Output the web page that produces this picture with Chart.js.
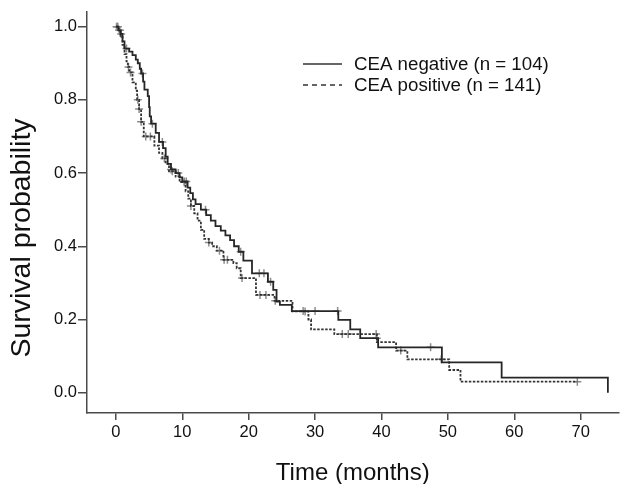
<!DOCTYPE html>
<html>
<head>
<meta charset="utf-8">
<script src="https://cdn.jsdelivr.net/npm/chart.js@4.4.1/dist/chart.umd.min.js"></script>
<style>
html, body { margin: 0; padding: 0; background: #fff; }
</style>
</head>
<body>
<canvas id="km" width="624" height="484"></canvas>
<script>
// Kaplan-Meier steps: time (months) and survival after each drop
const negTimes = [0, 0.4, 0.7, 1.0, 1.3, 2.0, 2.5, 3.0, 3.3, 3.6, 3.8, 4.1, 4.3, 4.8, 5.0, 5.1, 5.3, 6.0, 6.5, 7.1, 7.5, 7.8, 8.3, 9.0, 9.6, 10.0, 10.8, 11.2, 11.6, 12.0, 12.8, 13.6, 14.3, 15.0, 15.8, 16.5, 17.2, 17.8, 18.5, 19.2, 20.5, 22.9, 23.7, 24.2, 24.7, 26.5, 33.5, 35.3, 36.8, 39.5, 49.1, 58.1, 74.1];
const negSurv = [1, 0.99, 0.98, 0.96, 0.94, 0.932, 0.922, 0.91, 0.9, 0.885, 0.872, 0.85, 0.828, 0.81, 0.78, 0.755, 0.735, 0.71, 0.685, 0.668, 0.645, 0.625, 0.61, 0.6, 0.588, 0.577, 0.56, 0.545, 0.528, 0.515, 0.5, 0.485, 0.47, 0.455, 0.443, 0.43, 0.417, 0.4, 0.385, 0.361, 0.326, 0.303, 0.281, 0.249, 0.24, 0.223, 0.199, 0.173, 0.149, 0.124, 0.083, 0.041, 0];

const posTimes = [0, 0.4, 0.7, 1.0, 1.3, 1.6, 1.8, 2.0, 2.5, 3.0, 3.2, 3.5, 3.8, 4.2, 5.8, 6.5, 7.0, 7.5, 8.0, 9.0, 9.6, 10.5, 10.9, 11.3, 11.8, 12.3, 12.8, 13.3, 14.0, 14.5, 15.2, 16.2, 17.7, 18.2, 18.8, 21.1, 23.9, 26.6, 29.0, 29.4, 32.9, 39.3, 42.2, 43.9, 50.2, 51.9, 69.5];
const posSurv = [1, 0.99, 0.975, 0.95, 0.925, 0.905, 0.89, 0.875, 0.848, 0.825, 0.8, 0.775, 0.74, 0.7, 0.675, 0.655, 0.64, 0.625, 0.605, 0.59, 0.575, 0.55, 0.53, 0.51, 0.49, 0.47, 0.445, 0.42, 0.41, 0.4, 0.388, 0.363, 0.354, 0.34, 0.313, 0.267, 0.251, 0.222, 0.2, 0.173, 0.16, 0.138, 0.115, 0.091, 0.062, 0.03, 0.03];

// censored cases (+ marks)
const negCensorTimes = [0.2, 0.5, 0.8, 1.6, 4.0, 5.5, 7.0, 8.3, 9.4, 10.3, 10.6, 13.5, 18.8, 21.6, 22.3, 23.3, 28.2, 30.0, 33.4, 39.3, 47.4];
const negCensorSurv = [1, 0.99, 0.98, 0.94, 0.872, 0.735, 0.685, 0.61, 0.6, 0.577, 0.577, 0.5, 0.385, 0.326, 0.326, 0.303, 0.223, 0.223, 0.223, 0.149, 0.124];
const posCensorTimes = [0.1, 0.3, 0.6, 1.9, 2.2, 3.3, 3.5, 3.8, 4.5, 5.2, 7.3, 8.5, 10.3, 11.3, 14.0, 15.6, 16.3, 16.8, 19.0, 21.7, 22.6, 24.0, 28.5, 34.1, 35.0, 39.2, 42.9, 49.0, 69.5];
const posCensorSurv = [1, 1, 0.99, 0.89, 0.875, 0.8, 0.775, 0.74, 0.7, 0.7, 0.64, 0.605, 0.575, 0.51, 0.41, 0.388, 0.363, 0.363, 0.313, 0.267, 0.267, 0.251, 0.222, 0.16, 0.16, 0.16, 0.115, 0.091, 0.03];

const seriesLabels = ['CEA negative (n = 104)', 'CEA positive (n = 141)'];
const xTicks = [0, 10, 20, 30, 40, 50, 60, 70];
const yTicks = [0, 0.2, 0.4, 0.6, 0.8, 1.0];

const FONT = '"Liberation Sans", Arial, sans-serif';

function toPoints(xs, ys) {
    return xs.map((x, i) => ({ x: x, y: ys[i] }));
}

// legend and y title drawn by hand
const extras = {
    id: 'extras',
    afterDatasetsDraw(chart) {
        const ctx = chart.ctx;
        ctx.save();
        ctx.font = '18.7px ' + FONT;
        ctx.fillStyle = '#111';
        ctx.textBaseline = 'middle';
        seriesLabels.forEach((label, i) => {
            const y = 64 + i * 21;
            ctx.beginPath();
            ctx.setLineDash(i === 0 ? [] : [5, 4]);
            ctx.strokeStyle = '#333';
            ctx.lineWidth = 1.5;
            ctx.moveTo(303, y);
            ctx.lineTo(342, y);
            ctx.stroke();
            ctx.setLineDash([]);
            ctx.fillText(label, 354, y + 1);
        });

        ctx.translate(22, 238);
        ctx.rotate(-Math.PI / 2);
        ctx.font = '28.5px ' + FONT;
        ctx.textAlign = 'center';
        ctx.fillText('Survival probability', 0, 0);
        ctx.restore();
    }
};

const ctx = document.getElementById('km').getContext('2d');

const chart = new Chart(ctx, {
    type: 'line',
    data: {
        datasets: [
            {
                label: seriesLabels[0],
                data: toPoints(negTimes, negSurv),
                stepped: true,
                borderColor: '#262626',
                borderWidth: 1.8,
                pointRadius: 0,
                fill: false
            },
            {
                label: seriesLabels[1],
                data: toPoints(posTimes, posSurv),
                stepped: true,
                borderColor: '#333',
                borderWidth: 1.8,
                borderDash: [2.5, 1.5],
                pointRadius: 0,
                fill: false
            },
            {
                type: 'scatter',
                label: 'censored negative',
                data: toPoints(negCensorTimes, negCensorSurv),
                pointStyle: 'cross',
                pointRadius: 4,
                borderColor: '#8c8c8c',
                borderWidth: 1.5,
                showLine: false
            },
            {
                type: 'scatter',
                label: 'censored positive',
                data: toPoints(posCensorTimes, posCensorSurv),
                pointStyle: 'cross',
                pointRadius: 4,
                borderColor: '#8c8c8c',
                borderWidth: 1.5,
                showLine: false
            }
        ]
    },
    options: {
        responsive: false,
        animation: false,
        layout: { padding: { top: 12, right: 2, left: 0, bottom: 0 } },
        plugins: {
            legend: { display: false },
            tooltip: { enabled: false }
        },
        scales: {
            x: {
                type: 'linear',
                min: -4.35,
                max: 75.7,
                afterBuildTicks: (scale) => { scale.ticks = xTicks.map(v => ({ value: v })); },
                afterFit: (scale) => { scale.height = 71; },
                grid: { display: true, drawOnChartArea: false, drawTicks: true, tickLength: 7, color: '#4a4a4a', lineWidth: 1.5 },
                border: { display: true, color: '#4a4a4a', width: 1.5 },
                ticks: {
                    padding: 3,
                    color: '#111',
                    font: { family: FONT, size: 16.5 },
                    maxRotation: 0,
                    callback: (v) => String(v)
                },
                title: {
                    display: true,
                    text: 'Time (months)',
                    color: '#111',
                    font: { family: FONT, size: 24, lineHeight: 1 },
                    padding: { top: 0, bottom: -1 }
                }
            },
            y: {
                type: 'linear',
                min: -0.0555,
                max: 1.04,
                afterBuildTicks: (scale) => { scale.ticks = yTicks.map(v => ({ value: v })); },
                afterFit: (scale) => { scale.width = 87; },
                grid: { display: true, drawOnChartArea: false, drawTicks: true, tickLength: 9, color: '#4a4a4a', lineWidth: 1.5 },
                border: { display: true, color: '#4a4a4a', width: 1.5 },
                ticks: {
                    padding: 1,
                    color: '#111',
                    font: { family: FONT, size: 16.5 },
                    callback: (v) => v.toFixed(1)
                }
            }
        }
    },
    plugins: [extras]
});
</script>
</body>
</html>
